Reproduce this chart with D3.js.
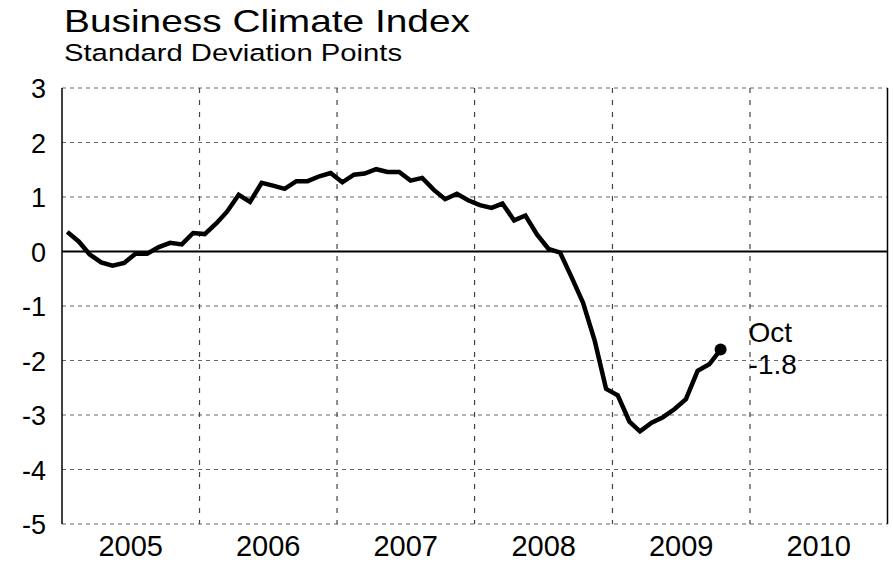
<!DOCTYPE html>
<html>
<head>
<meta charset="utf-8">
<script src="https://cdn.jsdelivr.net/npm/d3@7"></script>
<style>
    body { margin: 0; background: #fff; }
    svg { display: block; font-family: "Liberation Sans", Arial, Helvetica, sans-serif; }
</style>
</head>
<body>
<div id="chart"></div>
<script>
// Business Climate Index, monthly, Jan 2005 - Oct 2009
const firstMonth = '2005-01';
const lastMonth = '2009-10';
const values = [
    // 2005
    0.36, 0.18, -0.05, -0.20, -0.26, -0.21, -0.04, -0.04, 0.08, 0.16, 0.13, 0.34,
    // 2006
    0.32, 0.52, 0.73, 1.04, 0.91, 1.26, 1.21, 1.15, 1.29, 1.29, 1.38, 1.44,
    // 2007
    1.27, 1.41, 1.43, 1.51, 1.46, 1.46, 1.30, 1.35, 1.13, 0.96, 1.06, 0.94,
    // 2008
    0.85, 0.80, 0.88, 0.57, 0.66, 0.31, 0.05, -0.02, -0.48, -0.94, -1.64, -2.52,
    // 2009
    -2.64, -3.12, -3.30, -3.14, -3.04, -2.89, -2.71, -2.19, -2.07, -1.80
];
const years = [2005, 2006, 2007, 2008, 2009, 2010];
const yTicks = [3, 2, 1, 0, -1, -2, -3, -4, -5];
const lastLabel = ['Oct', '-1.8'];

const width = 893;
const height = 562;
const margin = { top: 88, right: 5.5, bottom: 38, left: 62 };

const parseMonth = d3.timeParse('%Y-%m');
const months = d3.timeMonth.range(parseMonth(firstMonth), d3.timeMonth.offset(parseMonth(lastMonth), 1));
const data = months.map((m, i) => ({ date: d3.timeDay.offset(m, 14), value: values[i] }));

const svg = d3.select('#chart')
    .append('svg')
    .attr('width', width)
    .attr('height', height);

const x = d3.scaleTime()
    .domain([new Date(years[0], 0, 1), new Date(years[years.length - 1] + 1, 0, 1)])
    .range([margin.left, width - margin.right]);

const y = d3.scaleLinear()
    .domain([-5, 3])
    .range([height - margin.bottom, margin.top]);

// Horizontal grid
svg.append('g')
    .selectAll('line')
    .data(yTicks.filter(d => d !== 0))
    .enter().append('line')
    .attr('x1', x.range()[0])
    .attr('x2', x.range()[1])
    .attr('y1', d => y(d))
    .attr('y2', d => y(d))
    .attr('stroke', '#666')
    .attr('stroke-width', 1.2)
    .attr('stroke-dasharray', '4,4');

// Vertical grid at year boundaries
svg.append('g')
    .selectAll('line')
    .data(years.slice(1))
    .enter().append('line')
    .attr('x1', d => x(new Date(d, 0, 1)))
    .attr('x2', d => x(new Date(d, 0, 1)))
    .attr('y1', y.range()[1])
    .attr('y2', y.range()[0])
    .attr('stroke', '#444')
    .attr('stroke-width', 1.2)
    .attr('stroke-dasharray', '5,7');

// Left and right frame
svg.append('g')
    .selectAll('line')
    .data(x.range())
    .enter().append('line')
    .attr('x1', d => d)
    .attr('x2', d => d)
    .attr('y1', y.range()[1])
    .attr('y2', y.range()[0])
    .attr('stroke', '#000')
    .attr('stroke-width', 1.5);

// Zero line
svg.append('line')
    .attr('x1', x.range()[0])
    .attr('x2', x.range()[1])
    .attr('y1', y(0))
    .attr('y2', y(0))
    .attr('stroke', '#000')
    .attr('stroke-width', 2.2);

// Y axis labels
const yAxis = svg.append('g')
    .attr('transform', `translate(${margin.left - 16},0)`)
    .call(d3.axisLeft(y).tickValues(yTicks).tickSize(0).tickPadding(0).tickFormat(d => String(d)));
yAxis.select('.domain').remove();
yAxis.selectAll('text')
    .attr('font-family', null)
    .attr('font-size', 27)
    .attr('fill', '#000')
    .attr('dy', '0.36em');

// Year labels
const xAxis = svg.append('g')
    .attr('transform', `translate(0,${height - margin.bottom})`)
    .call(d3.axisBottom(x)
        .tickValues(years.map(d => new Date(d, 6, 1)))
        .tickSize(0)
        .tickPadding(0)
        .tickFormat(d3.timeFormat('%Y')));
xAxis.select('.domain').remove();
xAxis.selectAll('text')
    .attr('font-family', null)
    .attr('font-size', 29)
    .attr('fill', '#000')
    .attr('dy', null)
    .attr('y', 32);

// Series line
const line = d3.line()
    .x(d => x(d.date))
    .y(d => y(d.value));

svg.append('path')
    .datum(data)
    .attr('fill', 'none')
    .attr('stroke', '#000')
    .attr('stroke-width', 4.5)
    .attr('stroke-linejoin', 'miter')
    .attr('d', line);

// Last point marker and label
const last = data[data.length - 1];
svg.append('circle')
    .attr('cx', x(last.date))
    .attr('cy', y(last.value))
    .attr('r', 6)
    .attr('fill', '#000');

svg.append('text')
    .attr('x', x(last.date) + 28)
    .attr('y', y(last.value) - 8)
    .attr('font-size', 28)
    .selectAll('tspan')
    .data(lastLabel)
    .enter().append('tspan')
    .attr('x', x(last.date) + 28)
    .attr('dy', (d, i) => i === 0 ? 0 : 32)
    .text(d => d);

// Titles
svg.append('text')
    .attr('x', 64)
    .attr('y', 32)
    .attr('font-size', 31.5)
    .attr('textLength', 406)
    .attr('lengthAdjust', 'spacingAndGlyphs')
    .text('Business Climate Index');

svg.append('text')
    .attr('x', 64)
    .attr('y', 61)
    .attr('font-size', 24.5)
    .attr('textLength', 338)
    .attr('lengthAdjust', 'spacingAndGlyphs')
    .text('Standard Deviation Points');
</script>
</body>
</html>
